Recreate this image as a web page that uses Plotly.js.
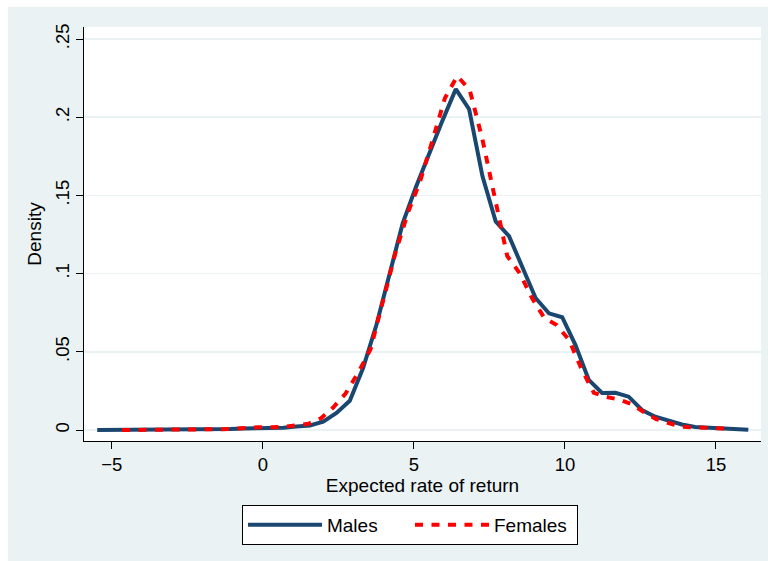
<!DOCTYPE html>
<html>
<head>
<meta charset="utf-8">
<script src="https://cdn.plot.ly/plotly-3.0.1.min.js"></script>
<style>
  html, body { margin: 0; padding: 0; background: #ffffff; }
  #chart { position: absolute; left: 8px; top: 7px; width: 760px; height: 554px; }
</style>
</head>
<body>
<div id="chart"></div>
<script>
// Kernel density estimates, expected rate of return
var maleX = [-5.48, -5.04, -4.60, -4.16, -3.72, -3.28, -2.84, -2.40, -1.96, -1.52,
             -1.08, -0.64, -0.20, 0.24, 0.68, 1.12, 1.56, 2.00, 2.44, 2.88,
             3.32, 3.76, 4.20, 4.63, 5.07, 5.51, 5.95, 6.39, 6.83, 7.27,
             7.71, 8.15, 8.59, 9.03, 9.47, 9.91, 10.35, 10.79, 11.23, 11.67,
             12.11, 12.55, 12.99, 13.43, 13.87, 14.31, 14.75, 15.19, 15.63, 16.07];
var maleY = [0.0000, 0.0000, 0.0000, 0.0000, 0.0000, 0.0000, 0.0000, 0.0001, 0.0001, 0.0002,
             0.0006, 0.0010, 0.0011, 0.0011, 0.0014, 0.0022, 0.0029, 0.0054, 0.0109, 0.0187,
             0.0396, 0.0671, 0.1010, 0.1321, 0.1554, 0.1771, 0.1980, 0.2180, 0.2051, 0.1624,
             0.1333, 0.1240, 0.1042, 0.0844, 0.0746, 0.0721, 0.0543, 0.0320, 0.0237, 0.0238,
             0.0213, 0.0128, 0.0085, 0.0058, 0.0035, 0.0019, 0.0015, 0.0010, 0.0004, 0.0001];

var femaleX = [-4.66, -4.25, -3.84, -3.42, -3.01, -2.60, -2.19, -1.78, -1.37, -0.96,
               -0.55, -0.14, 0.28, 0.69, 1.10, 1.51, 1.92, 2.33, 2.74, 3.15,
               3.57, 3.98, 4.39, 4.80, 5.21, 5.62, 6.03, 6.44, 6.85, 7.26,
               7.68, 8.09, 8.50, 8.91, 9.32, 9.73, 10.14, 10.55, 10.96, 11.38,
               11.79, 12.20, 12.61, 13.02, 13.43, 13.84, 14.25, 14.66, 15.08, 15.49];
var femaleY = [0.0000, 0.0000, 0.0000, 0.0000, 0.0000, 0.0000, 0.0001, 0.0003, 0.0005, 0.0008,
               0.0015, 0.0017, 0.0017, 0.0020, 0.0030, 0.0040, 0.0074, 0.0144, 0.0233, 0.0364,
               0.0518, 0.0825, 0.1132, 0.1387, 0.1592, 0.1854, 0.2123, 0.2263, 0.2174, 0.1867,
               0.1483, 0.1113, 0.1004, 0.0844, 0.0716, 0.0671, 0.0575, 0.0390, 0.0237, 0.0211,
               0.0195, 0.0166, 0.0115, 0.0070, 0.0045, 0.0022, 0.0017, 0.0015, 0.0011, 0.0008];

var seriesNames = ["Males", "Females"];
var xTickVals = [-5, 0, 5, 10, 15];
var xTickText = ["\u22125", "0", "5", "10", "15"];
var yTickVals = [0, 0.05, 0.1, 0.15, 0.2, 0.25];
var yTickText = ["0", ".05", ".1", ".15", ".2", ".25"];
var xTitle = "Expected rate of return";
var yTitle = "Density";

var FONT = "'Liberation Sans', Arial, sans-serif";

var traces = [
  {
    x: maleX, y: maleY, name: seriesNames[0], type: "scatter", mode: "lines",
    line: { color: "#1a476f", width: 4, shape: "linear" }
  },
  {
    x: femaleX, y: femaleY, name: seriesNames[1], type: "scatter", mode: "lines",
    line: { color: "#ff0000", width: 4, dash: "8px,8.5px", shape: "linear" }
  }
];

var layout = {
  width: 760, height: 554,
  margin: { l: 76, r: 7, t: 20, b: 120, pad: 0 },
  paper_bgcolor: "#eaf2f3",
  plot_bgcolor: "#ffffff",
  font: { family: FONT, size: 18.5, color: "#000000" },
  showlegend: true,
  xaxis: {
    range: [-5.917, 16.49],
    tickmode: "array", tickvals: xTickVals, ticktext: xTickText,
    ticks: "outside", ticklen: 7, tickwidth: 1, tickcolor: "#000000",
    showline: true, linecolor: "#000000", linewidth: 1,
    showgrid: false, zeroline: false,
    tickfont: { family: FONT, size: 18.5, color: "#000000" },
    title: { text: xTitle, font: { family: FONT, size: 19, color: "#000000" }, standoff: 1 },
    automargin: false
  },
  yaxis: {
    range: [-0.00703, 0.2577],
    tickmode: "array", tickvals: yTickVals, ticktext: yTickText,
    tickangle: -90,
    ticks: "outside", ticklen: 7, tickwidth: 1, tickcolor: "#000000",
    showline: true, linecolor: "#000000", linewidth: 1,
    showgrid: true, gridcolor: "#eaf2f3", gridwidth: 1.5,
    zeroline: false,
    tickfont: { family: FONT, size: 18.5, color: "#000000" },
    title: { text: yTitle, font: { family: FONT, size: 19, color: "#000000" }, standoff: 4 },
    automargin: false
  },
  legend: {
    orientation: "h",
    x: 0.4815, xanchor: "center",
    y: -0.1546, yanchor: "top",
    bgcolor: "#ffffff", bordercolor: "#000000", borderwidth: 1,
    font: { family: FONT, size: 19, color: "#000000" },
    itemwidth: 74,
    entrywidth: 78,
    entrywidthmode: "pixels",
    traceorder: "normal"
  }
};

Plotly.newPlot("chart", traces, layout, { staticPlot: true, displayModeBar: false });
</script>
</body>
</html>
